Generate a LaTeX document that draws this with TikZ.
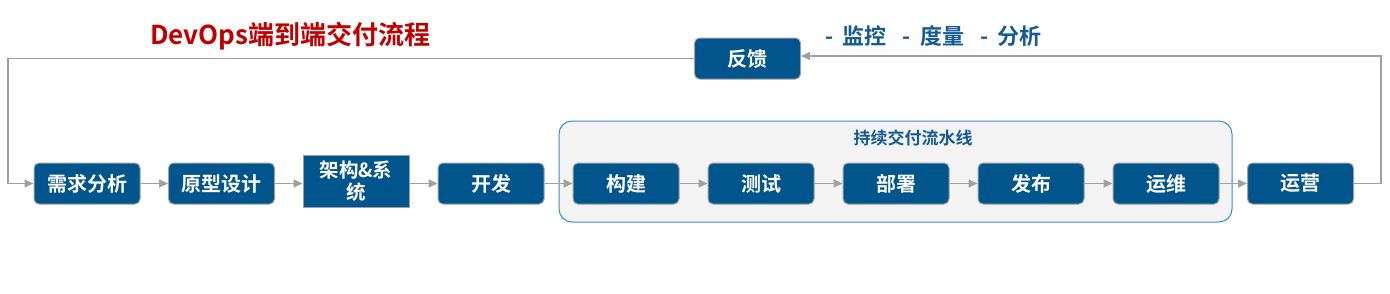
\documentclass[tikz,border=0pt]{standalone}
\usepackage{fontspec}
\setmainfont{Noto Sans CJK SC}[BoldFont={Noto Sans CJK SC Bold}]
\usetikzlibrary{arrows.meta,positioning}
\definecolor{boxblue}{HTML}{00558C}
\definecolor{txtblue}{HTML}{145A94}
\definecolor{titlered}{HTML}{C00000}
\definecolor{linegray}{HTML}{A0A0A0}
\definecolor{cbord}{HTML}{3A8AD0}
\definecolor{cfill}{HTML}{F3F3F3}
\begin{document}
\begin{tikzpicture}[x=1pt,y=-1pt,
  stepbox/.style={draw=linegray,line width=1pt,fill=boxblue,rounded corners=5pt,
    minimum width=106pt,minimum height=41pt,inner sep=0pt,
    text=white,font=\fontsize{20}{22}\selectfont\bfseries},
  sqbox/.style={stepbox,rounded corners=0pt,minimum height=52pt,align=center,
    font=\fontsize{19.5}{22}\selectfont\bfseries},
  conn/.style={draw=linegray,line width=1.6pt,-{Triangle[length=9pt,width=8pt]}},
  plain/.style={draw=linegray,line width=1.6pt}]
\useasboundingbox (0,0) rectangle (1390,293);
% pipeline container
\node[draw=cbord,line width=1pt,fill=cfill,rounded corners=13pt,
  minimum width=673pt,minimum height=101pt,inner sep=0pt] (pipe) at (895.5,171.5) {};
\node[text=txtblue,font=\fontsize{17}{20}\selectfont\bfseries] (pipelabel) at (913,138) {持续交付流水线};
% boxes
\node[stepbox] (s1) at (87,183.5) {需求分析};
\node[stepbox] (s2) at (221.5,183.5) {原型设计};
\node[sqbox] (s3) at (356,181) {架构\&系\\统};
\node[stepbox] (s4) at (491,183.5) {开发};
\node[stepbox] (s5) at (626,183.5) {构建};
\node[stepbox] (s6) at (761,183.5) {测试};
\node[stepbox] (s7) at (896,183.5) {部署};
\node[stepbox] (s8) at (1031,183.5) {发布};
\node[stepbox] (s9) at (1166,183.5) {运维};
\node[stepbox] (s10) at (1300.5,183.5) {运营};
\node[stepbox] (fb) at (747.5,58.5) {反馈};
% texts
\node[text=titlered,font=\fontsize{26}{30}\selectfont\bfseries,anchor=west,inner sep=0pt] (title) at (150,36) {DevOps端到端交付流程};
\node[text=txtblue,font=\fontsize{22}{26}\selectfont\bfseries,anchor=west,inner sep=0pt] (mon) at (825,36) {-\hspace{9pt}监控\hspace{16pt}-\hspace{10pt}度量\hspace{16pt}-\hspace{9pt}分析};
% connectors
\foreach \a/\b in {s1/s2,s2/s3,s3/s4,s4/s5,s5/s6,s6/s7,s7/s8,s8/s9,s9/s10}
  \draw[conn] (\a.east |- s1.east) -- (\b.west |- s1.west);
\coordinate (r1) at (1381,183.5);
\coordinate (r2) at (1381,56);
\coordinate (l1) at (8,58.5);
\coordinate (l2) at (8,183.5);
\draw[conn] (s10.east) -- (r1) -- (r2) -- (fb.east |- r2);
\draw[conn] (fb.west) -- (l1) -- (l2) -- (s1.west);
\end{tikzpicture}
\end{document}
